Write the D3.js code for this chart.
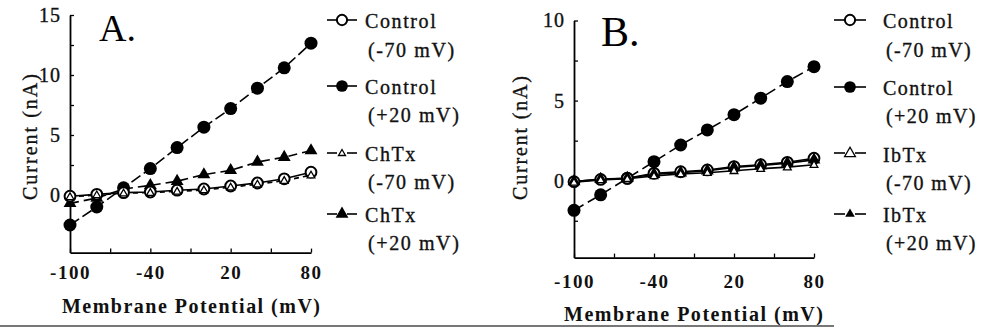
<!DOCTYPE html>
<html>
<head>
<meta charset="utf-8">
<script src="https://cdn.jsdelivr.net/npm/d3@7"></script>
<style>
  body { margin: 0; background: #fff; }
  svg { display: block; }
</style>
</head>
<body>
<svg id="chart" width="981" height="328"></svg>
<script>
const SERIF = "'Liberation Serif', 'Times New Roman', Times, 'DejaVu Serif', serif";

// Holding potentials on the x axis (mV)
const voltages = [-100, -80, -60, -40, -20, 0, 20, 40, 60, 80];

// Panel A: charybdotoxin (ChTx)
const aControlRest = [-0.1, 0.05, 0.2, 0.25, 0.4, 0.5, 0.75, 1.0, 1.35, 1.9];
const aControlDepol = [-2.5, -1.0, 0.6, 2.2, 3.95, 5.65, 7.2, 8.9, 10.6, 12.65];
const aChTxRest = [-0.15, 0.0, 0.15, 0.2, 0.3, 0.42, 0.65, 0.9, 1.2, 1.65];
const aChTxDepol = [-0.7, -0.25, 0.5, 0.8, 1.15, 1.7, 2.05, 2.75, 3.15, 3.7];

// Panel B: iberiotoxin (IbTx)
const bControlRest = [-0.06, 0.08, 0.15, 0.46, 0.56, 0.67, 0.88, 1.0, 1.15, 1.4];
const bControlDepol = [-1.85, -0.88, 0.15, 1.19, 2.23, 3.17, 4.12, 5.15, 6.19, 7.12];
const bIbTxRest = [-0.1, 0.05, 0.12, 0.3, 0.42, 0.5, 0.62, 0.75, 0.85, 1.0];
const bIbTxDepol = [-0.05, 0.1, 0.15, 0.4, 0.5, 0.62, 0.82, 0.95, 1.1, 1.3];

// Axis ticks
const xTicks = [-100, -70, -40, -10, 20, 50, 80];
const xTickLabels = [-100, -40, 20, 80];
const aYTicks = [-2.5, 0, 2.5, 5, 7.5, 10, 12.5, 15];
const aYTickLabels = [0, 5, 10, 15];
const bYTicks = [-2.5, 0, 2.5, 5, 7.5, 10];
const bYTickLabels = [0, 5, 10];

// Legend text
const aLegendNames = ["Control", "Control", "ChTx", "ChTx"];
const bLegendNames = ["Control", "Control", "IbTx", "IbTx"];
const legendConditions = ["(-70 mV)", "(+20 mV)", "(-70 mV)", "(+20 mV)"];

const svg = d3.select("#chart");

// Marker drawing helpers
const triPath = (size) => d3.symbol().type(d3.symbolTriangle).size(size)();
function drawMarker(g, kind, x, y, scale = 1) {
  if (kind === "openCircle") {
    g.append("circle").attr("cx", x).attr("cy", y).attr("r", 5.4 * scale)
      .attr("fill", "#fff").attr("stroke", "#000").attr("stroke-width", 2);
  } else if (kind === "filledCircle") {
    g.append("circle").attr("cx", x).attr("cy", y).attr("r", 6.5 * scale)
      .attr("fill", "#000");
  } else if (kind === "openTriangle") {
    g.append("path").attr("d", triPath(26 * scale * scale))
      .attr("transform", `translate(${x},${y + 0.5})`)
      .attr("fill", "#fff").attr("stroke", "#000").attr("stroke-width", 1.3);
  } else if (kind === "filledTriangle") {
    g.append("path").attr("d", triPath(72 * scale * scale))
      .attr("transform", `translate(${x},${y})`)
      .attr("fill", "#000");
  }
}

// Slight outline to give the type a heavier, printed weight
function heavy(sel, w = 0.35) {
  return sel.attr("stroke", "#111").attr("stroke-width", w);
}

function drawPanel(cfg) {
  const x = d3.scaleLinear().domain([-100, 80]).range([cfg.x0, cfg.x1]);
  const y = d3.scaleLinear().domain(cfg.yDomain).range([cfg.yBottom, cfg.yTop]);
  const g = svg.append("g");

  // Axes with inward ticks
  const yAxis = d3.axisLeft(y).tickValues(cfg.yTicks).tickSizeInner(-4).tickSizeOuter(0)
    .tickPadding(cfg.yPad).tickFormat(d => cfg.yTickLabels.includes(d) ? d : "");
  const ya = g.append("g").attr("transform", `translate(${cfg.x0},0)`).call(yAxis)
    .attr("font-family", SERIF);
  ya.select(".domain").attr("stroke", "#000").attr("stroke-width", 1.8);
  ya.selectAll(".tick line").attr("stroke", "#000").attr("stroke-width", 1.3);
  heavy(ya.selectAll(".tick text").attr("font-size", 20).attr("fill", "#111").attr("letter-spacing", 1));

  const xAxis = d3.axisBottom(x).tickValues(xTicks).tickSizeInner(-4).tickSizeOuter(0)
    .tickPadding(cfg.xPad).tickFormat(d => xTickLabels.includes(d) ? d : "");
  const xa = g.append("g").attr("transform", `translate(0,${cfg.yBottom})`).call(xAxis)
    .attr("font-family", SERIF);
  xa.select(".domain").attr("stroke", "#000").attr("stroke-width", 1.8);
  xa.selectAll(".tick line").attr("stroke", "#000").attr("stroke-width", 1.3);
  xa.selectAll(".tick text").attr("font-size", 19).attr("font-weight", "bold")
    .attr("fill", "#111").attr("letter-spacing", 1.5);

  // Axis titles
  g.append("text").attr("x", cfg.xTitle.x).attr("y", cfg.xTitle.y)
    .attr("font-family", SERIF).attr("font-size", 20).attr("font-weight", "bold").attr("fill", "#111")
    .attr("textLength", cfg.xTitle.len).attr("lengthAdjust", "spacing")
    .text("Membrane Potential (mV)");
  heavy(g.append("text")
    .attr("transform", `translate(${cfg.yTitle.x},${cfg.yTitle.y}) rotate(-90)`)
    .attr("font-family", SERIF).attr("text-anchor", "middle").attr("font-size", 20).attr("fill", "#111")
    .attr("textLength", cfg.yTitle.len).attr("lengthAdjust", "spacing")
    .text("Current (nA)"));

  // Panel letter
  g.append("text").attr("x", cfg.letter.x).attr("y", cfg.letter.y)
    .attr("font-family", SERIF).attr("font-size", cfg.letter.size).attr("fill", "#000")
    .text(cfg.letter.text);

  // Series lines
  const line = d3.line().x((d, i) => x(voltages[i])).y(d => y(d));
  cfg.series.forEach(s => {
    g.append("path").datum(s.values).attr("d", line)
      .attr("fill", "none").attr("stroke", "#000").attr("stroke-width", 1.6)
      .attr("stroke-dasharray", s.dash || null);
  });
  // Markers, drawn in series order
  cfg.series.forEach(s => {
    s.values.forEach((v, i) => drawMarker(g, s.marker, x(voltages[i]), y(v)));
  });

  // Legend
  const lg = g.append("g").attr("font-family", SERIF);
  cfg.legend.forEach((e, i) => {
    const cy = cfg.legendPos.symbolY[i];
    const cx = cfg.legendPos.symbolX;
    const half = cfg.legendPos.half;
    lg.append("line").attr("x1", cx - half).attr("x2", cx - 5).attr("y1", cy).attr("y2", cy)
      .attr("stroke", "#000").attr("stroke-width", 1.6);
    lg.append("line").attr("x1", cx + 5).attr("x2", cx + half).attr("y1", cy).attr("y2", cy)
      .attr("stroke", "#000").attr("stroke-width", 1.6);
    drawMarker(lg, e.marker, cx, cy, e.scale);
    heavy(lg.append("text").attr("x", cfg.legendPos.textX).attr("y", cfg.legendPos.base1[i])
      .attr("font-size", 20).attr("fill", "#111").attr("letter-spacing", cfg.legendPos.spacing).text(e.name));
    heavy(lg.append("text").attr("x", cfg.legendPos.textX + 3).attr("y", cfg.legendPos.base2[i])
      .attr("font-size", 20).attr("fill", "#111").attr("letter-spacing", cfg.legendPos.spacing).text(e.cond));
  });
}

drawPanel({
  x0: 70, x1: 311, yTop: 15, yBottom: 252.6, yDomain: [-4.8, 15],
  yTicks: aYTicks, yTickLabels: aYTickLabels, yPad: 9, xPad: 13,
  xTitle: { x: 62, y: 313, len: 258 },
  yTitle: { x: 37, y: 137, len: 126 },
  letter: { x: 99, y: 41, size: 38, text: "A." },
  series: [
    { values: aControlDepol, marker: "filledCircle", dash: "11,4" },
    { values: aChTxDepol, marker: "filledTriangle", dash: "9,5" },
    { values: aControlRest, marker: "openCircle" },
    { values: aChTxRest, marker: "openTriangle", dash: "5,4" }
  ],
  legend: [
    { name: aLegendNames[0], cond: legendConditions[0], marker: "openCircle", scale: 0.95 },
    { name: aLegendNames[1], cond: legendConditions[1], marker: "filledCircle", scale: 0.9 },
    { name: aLegendNames[2], cond: legendConditions[2], marker: "openTriangle", scale: 0.9 },
    { name: aLegendNames[3], cond: legendConditions[3], marker: "filledTriangle", scale: 1 }
  ],
  legendPos: { symbolX: 342, half: 15, textX: 365, spacing: 1.6,
    symbolY: [20, 86, 153, 214], base1: [28, 94, 161, 222], base2: [57, 122, 189, 250] }
});

drawPanel({
  x0: 574, x1: 814, yTop: 20.5, yBottom: 257.6, yDomain: [-4.8, 10],
  yTicks: bYTicks, yTickLabels: bYTickLabels, yPad: 9, xPad: 17,
  xTitle: { x: 564, y: 321, len: 259 },
  yTitle: { x: 527, y: 138, len: 124 },
  letter: { x: 601, y: 46, size: 42, text: "B." },
  series: [
    { values: bControlDepol, marker: "filledCircle", dash: "11,5" },
    { values: bControlRest, marker: "openCircle" },
    { values: bIbTxDepol, marker: "filledTriangle" },
    { values: bIbTxRest, marker: "openTriangle" }
  ],
  legend: [
    { name: bLegendNames[0], cond: legendConditions[0], marker: "openCircle", scale: 0.95 },
    { name: bLegendNames[1], cond: legendConditions[1], marker: "filledCircle", scale: 0.9 },
    { name: bLegendNames[2], cond: legendConditions[2], marker: "openTriangle", scale: 1.4 },
    { name: bLegendNames[3], cond: legendConditions[3], marker: "filledTriangle", scale: 0.75 }
  ],
  legendPos: { symbolX: 850, half: 16, textX: 883, spacing: 1.4,
    symbolY: [20, 87, 153, 214], base1: [28, 95, 162, 222], base2: [57, 123, 190, 250] }
});

// Rule along the bottom edge
svg.append("line").attr("x1", 0).attr("x2", 834).attr("y1", 326).attr("y2", 326)
  .attr("stroke", "#777").attr("stroke-width", 2);
</script>
</body>
</html>
